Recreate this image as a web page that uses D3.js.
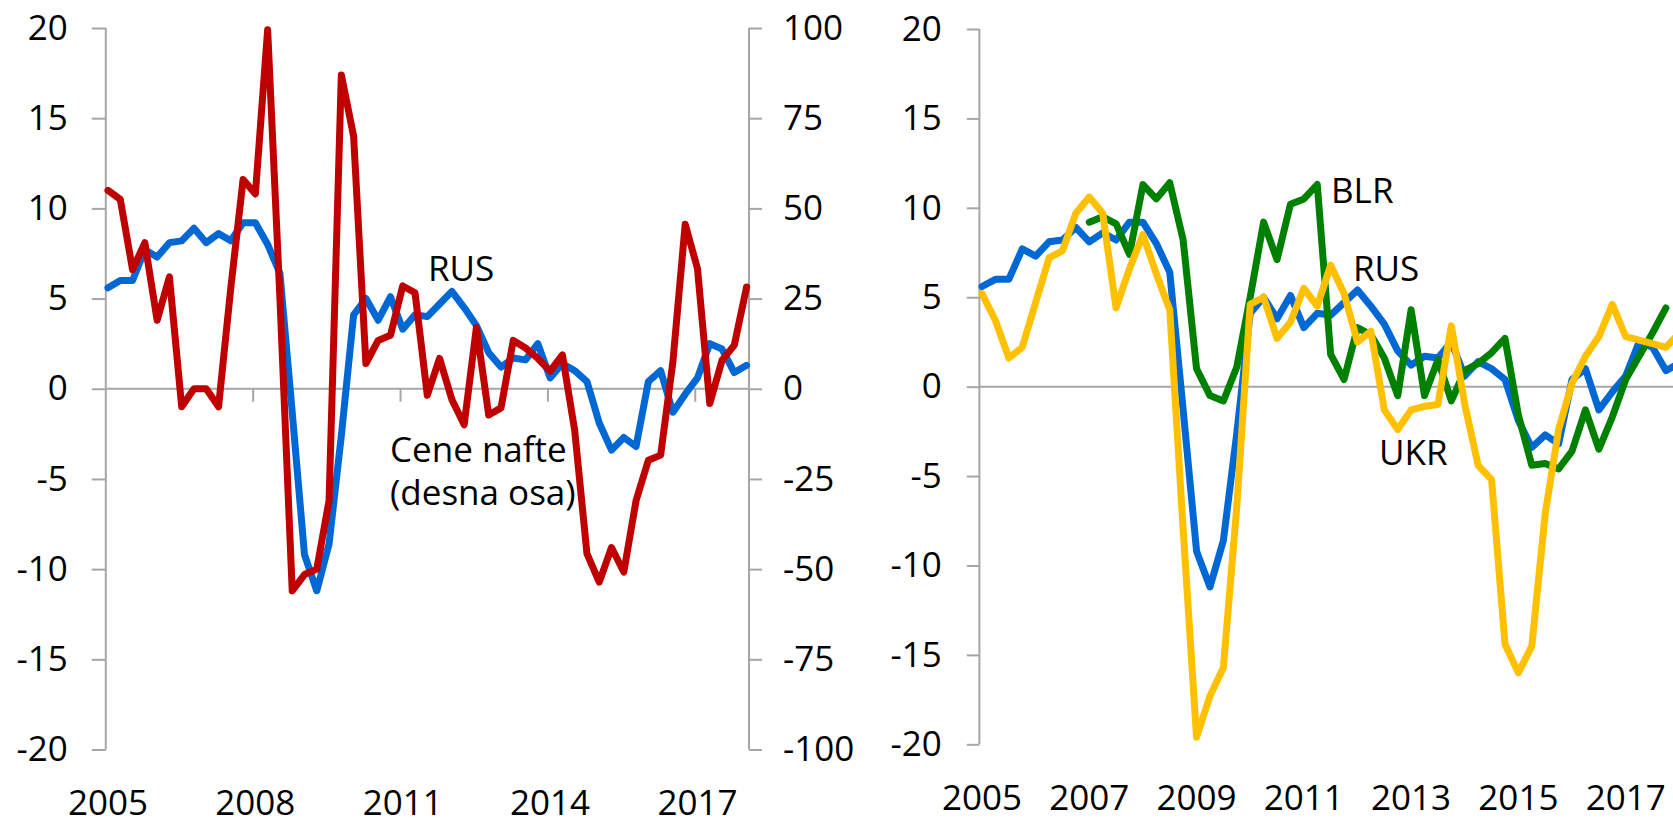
<!DOCTYPE html>
<html><head><meta charset="utf-8">
<script src="https://cdn.jsdelivr.net/npm/d3@7"></script>
<style>
body{margin:0;background:#fff;overflow:hidden;}
svg{display:block;font-family:"Open Sans","Noto Sans",sans-serif;}
svg text{font-family:"Open Sans","Noto Sans",sans-serif;}
.tick text{fill:#000;}
</style></head><body>
<svg id="c" width="1673" height="820"></svg>
<script>
// Categories: quarters 2005Q1 .. 2018Q1
const quarters = d3.range(2005, 2019).flatMap(y => [1,2,3,4].map(q => y + "Q" + q)).slice(0, 53);
const leftYears = ["2005","2008","2011","2014","2017"];
const rightYears = ["2005","2007","2009","2011","2013","2015","2017"];
const leftTicks = [-20,-15,-10,-5,0,5,10,15,20];
const rightAxisTicks = [-100,-75,-50,-25,0,25,50,75,100];

// GDP growth y/y, %
const rus = [5.6,6.0,6.0,7.7,7.3,8.1,8.2,8.9,8.1,8.6,8.2,9.2,9.2,8.0,6.4,-1.3,-9.2,-11.2,-8.6,-2.6,
  4.1,5.0,3.8,5.1,3.3,4.1,4.0,4.7,5.4,4.5,3.5,2.0,1.2,1.7,1.6,2.5,0.6,1.4,1.0,0.4,
  -1.9,-3.4,-2.7,-3.2,0.4,1.0,-1.3,-0.3,0.6,2.5,2.2,0.9,1.3];
// Oil prices y/y, % (right axis)
const oil = [55,52.5,33,40.5,19,31,-5,0,0,-5,28,58,54,99.5,25,-56,-51.5,-50,-31,87,
  70,7,13.4,14.8,28.5,26.6,-1.8,8.4,-3,-10,17,-7.3,-5.3,13.4,11.3,8.4,4.9,9.4,-11.5,-45.7,
  -53.6,-44,-50.8,-31,-19.8,-18.4,7.5,45.6,33.3,-4.1,7.9,12.1,28.2];
const blr = [null,null,null,null,null,null,null,null,9.2,9.5,9.1,7.4,11.3,10.5,11.4,8.2,1.0,-0.5,-0.8,1.1,
  5.0,9.2,7.1,10.2,10.5,11.3,1.8,0.4,3.3,2.9,1.6,-0.5,4.3,-0.5,1.5,-0.8,0.9,1.3,1.9,2.7,
  -1.6,-4.4,-4.3,-4.6,-3.6,-1.3,-3.5,-1.7,0.4,1.7,3.0,4.4,null];
const ukr = [5.2,3.7,1.6,2.2,4.7,7.2,7.6,9.7,10.6,9.7,4.4,6.6,8.5,6.3,4.3,-8.0,-19.6,-17.3,-15.7,-6.7,
  4.6,5.0,2.7,3.6,5.5,4.5,6.8,5.2,2.5,3.1,-1.3,-2.4,-1.3,-1.1,-1.0,3.4,-1.0,-4.4,-5.2,-14.4,
  -16.0,-14.5,-7.1,-2.4,0.2,1.7,2.8,4.6,2.8,2.6,2.4,2.2,3.0];

const C = {rus:"#0068d4", oil:"#c00000", blr:"#008000", ukr:"#ffc000", axis:"#a6a6a6"};
const FONT = '"Open Sans","Noto Sans",sans-serif';
const FS = 35, LW = 7;
const svg = d3.select("#c");
const fmt = d => String(d);

function styleAxis(g){
  g.attr("font-family", FONT).attr("font-size", FS);
  g.select(".domain").remove();
  g.selectAll(".tick line").attr("stroke", C.axis).attr("stroke-width", 2);
  g.selectAll(".tick text").attr("font-size", FS).attr("font-family", FONT).attr("fill", "#000");
}

// ---------- Left panel ----------
const xL = d3.scaleLinear().domain([0, 52]).range([108, 746.6]);
const yL = d3.scaleLinear().domain([-20, 20]).range([749.5, 28]);
const yL2 = d3.scaleLinear().domain([-100, 100]).range([749.5, 28]);
const off = 2.2;
const axL = xL(0) - off, axR = xL(52) + off + 0.2;

const gL = svg.append("g");
gL.append("g").attr("transform", `translate(${axL},0)`)
  .call(d3.axisLeft(yL).tickValues(leftTicks).tickSize(14).tickPadding(24).tickFormat(fmt)).call(styleAxis);
gL.append("g").attr("transform", `translate(${axR},0)`)
  .call(d3.axisRight(yL2).tickValues(rightAxisTicks).tickSize(13).tickPadding(21).tickFormat(fmt)).call(styleAxis);
gL.append("line").attr("x1", axL).attr("x2", axL).attr("y1", yL(20)).attr("y2", yL(-20)).attr("stroke", C.axis).attr("stroke-width", 2);
gL.append("line").attr("x1", axR).attr("x2", axR).attr("y1", yL(20)).attr("y2", yL(-20)).attr("stroke", C.axis).attr("stroke-width", 2);
gL.append("line").attr("x1", axL).attr("x2", axR).attr("y1", yL(0)).attr("y2", yL(0)).attr("stroke", C.axis).attr("stroke-width", 2);
leftYears.forEach(yr => {
  const i = quarters.indexOf(yr + "Q1");
  if (i > 0) gL.append("line").attr("x1", xL(i) - off).attr("x2", xL(i) - off)
    .attr("y1", yL(0)).attr("y2", yL(0) + 13).attr("stroke", C.axis).attr("stroke-width", 2);
  gL.append("text").attr("x", xL(i)).attr("y", 815).attr("text-anchor", "middle").attr("font-size", FS).text(yr);
});
const lineL = d3.line().defined(d => d != null).x((d, i) => xL(i)).y(d => yL(d));
const lineL2 = d3.line().defined(d => d != null).x((d, i) => xL(i)).y(d => yL2(d));
function draw(g, gen, data, col){
  g.append("path").datum(data).attr("d", gen).attr("fill", "none").attr("stroke", col)
    .attr("stroke-width", LW).attr("stroke-linejoin", "round").attr("stroke-linecap", "round");
}
draw(gL, lineL, rus, C.rus);
draw(gL, lineL2, oil, C.oil);
gL.append("text").attr("x", 428).attr("y", 281).attr("font-size", FS).text("RUS");
gL.append("text").attr("x", 390).attr("y", 462).attr("font-size", FS).text("Cene nafte");
gL.append("text").attr("x", 390).attr("y", 505).attr("font-size", FS).text("(desna osa)");

// ---------- Right panel ----------
const xR = d3.scaleLinear().domain([0, 52]).range([982, 982 + 52 * 13.41]);
const yR = d3.scaleLinear().domain([-20, 20]).range([744.3, 29]);
const axR2 = xR(0) - 2.6;
const gR = svg.append("g");
gR.append("g").attr("transform", `translate(${axR2},0)`)
  .call(d3.axisLeft(yR).tickValues(leftTicks).tickSize(12.6).tickPadding(25).tickFormat(fmt)).call(styleAxis);
gR.append("line").attr("x1", axR2).attr("x2", axR2).attr("y1", yR(20)).attr("y2", yR(-20)).attr("stroke", C.axis).attr("stroke-width", 2);
gR.append("line").attr("x1", axR2).attr("x2", 1700).attr("y1", yR(0)).attr("y2", yR(0)).attr("stroke", C.axis).attr("stroke-width", 2);
rightYears.forEach(yr => {
  const i = quarters.indexOf(yr + "Q1");
  gR.append("text").attr("x", xR(i)).attr("y", 810).attr("text-anchor", "middle").attr("font-size", FS).text(yr);
});
const lineR = d3.line().defined(d => d != null).x((d, i) => xR(i)).y(d => yR(d));
draw(gR, lineR, rus, C.rus);
draw(gR, lineR, blr, C.blr);
draw(gR, lineR, ukr, C.ukr);
gR.append("text").attr("x", 1331).attr("y", 203).attr("font-size", FS).text("BLR");
gR.append("text").attr("x", 1353).attr("y", 281).attr("font-size", FS).text("RUS");
gR.append("text").attr("x", 1379).attr("y", 465).attr("font-size", FS).text("UKR");
</script>
</body></html>
